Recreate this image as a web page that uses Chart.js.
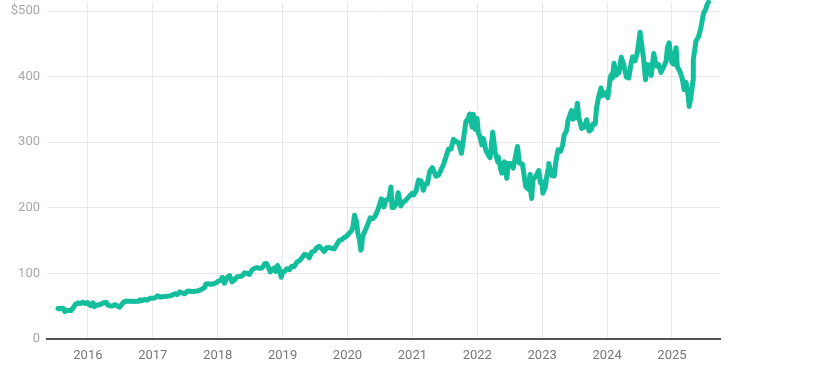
<!DOCTYPE html>
<html>
<head>
<meta charset="utf-8">
<script src="https://cdn.jsdelivr.net/npm/chart.js@4/dist/chart.umd.min.js"></script>
<style>
html,body{margin:0;padding:0;background:#fff;}
#wrap{width:825px;height:381px;position:relative;}
</style>
</head>
<body>
<div id="wrap"><canvas id="c"></canvas></div>
<script>
const dates = [
"2015-07-17","2015-07-24","2015-07-31","2015-08-14","2015-08-24","2015-08-28","2015-09-11","2015-09-28","2015-10-09","2015-10-23","2015-11-06","2015-11-20","2015-12-04","2015-12-18","2015-12-31",
"2016-01-08","2016-01-20","2016-01-29","2016-02-08","2016-02-19","2016-03-04","2016-03-18","2016-04-01","2016-04-15","2016-04-22","2016-05-06","2016-05-20","2016-06-03","2016-06-17","2016-06-27","2016-07-08","2016-07-22","2016-08-05","2016-08-19","2016-09-02","2016-09-16","2016-09-30","2016-10-14","2016-10-21","2016-11-04","2016-11-18","2016-12-02","2016-12-16","2016-12-30",
"2017-01-13","2017-01-27","2017-02-10","2017-02-24","2017-03-10","2017-03-24","2017-04-07","2017-04-21","2017-05-05","2017-05-19","2017-06-02","2017-06-16","2017-06-30","2017-07-14","2017-07-28","2017-08-11","2017-08-25","2017-09-08","2017-09-22","2017-10-06","2017-10-20","2017-10-27","2017-11-10","2017-11-24","2017-12-08","2017-12-22",
"2018-01-05","2018-01-19","2018-01-26","2018-02-08","2018-02-23","2018-03-09","2018-03-23","2018-04-06","2018-04-20","2018-05-04","2018-05-18","2018-06-01","2018-06-15","2018-06-29","2018-07-13","2018-07-27","2018-08-10","2018-08-24","2018-09-07","2018-09-21","2018-10-03","2018-10-12","2018-10-24","2018-11-02","2018-11-16","2018-11-23","2018-12-03","2018-12-14","2018-12-24","2018-12-31",
"2019-01-11","2019-01-25","2019-02-08","2019-02-22","2019-03-08","2019-03-22","2019-04-05","2019-04-19","2019-05-03","2019-05-17","2019-05-31","2019-06-14","2019-06-28","2019-07-12","2019-07-26","2019-08-09","2019-08-23","2019-09-06","2019-09-20","2019-10-04","2019-10-18","2019-11-01","2019-11-15","2019-11-29","2019-12-13","2019-12-31",
"2020-01-10","2020-01-24","2020-01-31","2020-02-10","2020-02-21","2020-02-28","2020-03-09","2020-03-16","2020-03-20","2020-03-26","2020-04-09","2020-04-24","2020-05-08","2020-05-22","2020-06-05","2020-06-19","2020-07-02","2020-07-10","2020-07-24","2020-08-07","2020-08-21","2020-09-02","2020-09-08","2020-09-18","2020-10-02","2020-10-13","2020-10-28","2020-11-09","2020-11-20","2020-12-04","2020-12-18","2020-12-31",
"2021-01-08","2021-01-22","2021-01-27","2021-02-05","2021-02-19","2021-03-04","2021-03-12","2021-03-26","2021-04-09","2021-04-23","2021-05-07","2021-05-14","2021-05-28","2021-06-11","2021-06-25","2021-07-09","2021-07-23","2021-08-06","2021-08-20","2021-09-03","2021-09-17","2021-10-04","2021-10-15","2021-10-29","2021-11-12","2021-11-19","2021-12-03","2021-12-10","2021-12-20","2021-12-31",
"2022-01-07","2022-01-14","2022-01-27","2022-02-04","2022-02-18","2022-03-07","2022-03-14","2022-03-29","2022-04-11","2022-04-26","2022-04-29","2022-05-11","2022-05-19","2022-06-03","2022-06-16","2022-06-24","2022-07-08","2022-07-22","2022-08-15","2022-08-26","2022-09-12","2022-09-30","2022-10-14","2022-10-25","2022-10-26","2022-11-03","2022-11-10","2022-11-25","2022-12-13","2022-12-22","2022-12-30",
"2023-01-05","2023-01-19","2023-01-27","2023-02-03","2023-02-07","2023-02-24","2023-03-10","2023-03-20","2023-03-31","2023-04-14","2023-04-26","2023-05-05","2023-05-19","2023-05-26","2023-06-15","2023-06-23","2023-06-30","2023-07-07","2023-07-18","2023-07-26","2023-08-11","2023-08-25","2023-09-08","2023-09-22","2023-10-05","2023-10-13","2023-10-26","2023-11-03","2023-11-15","2023-11-28","2023-12-07","2023-12-22","2023-12-29",
"2024-01-05","2024-01-19","2024-01-24","2024-01-31","2024-02-09","2024-02-21","2024-03-08","2024-03-21","2024-04-04","2024-04-19","2024-04-26","2024-05-02","2024-05-16","2024-05-24","2024-06-07","2024-06-20","2024-07-05","2024-07-24","2024-08-05","2024-08-16","2024-08-30","2024-09-06","2024-09-20","2024-10-04","2024-10-18","2024-10-31","2024-11-15","2024-11-29","2024-12-06","2024-12-16","2024-12-31",
"2025-01-10","2025-01-24","2025-01-31","2025-02-14","2025-02-28","2025-03-10","2025-03-21","2025-03-31","2025-04-08","2025-04-17","2025-04-30","2025-05-01","2025-05-16","2025-05-30","2025-06-13","2025-06-27","2025-07-10","2025-07-18","2025-07-25"
];
const prices = [
46.6,45.9,46.7,47.0,41.7,43.9,43.5,43.3,47.1,52.9,54.9,54.2,56.0,54.1,55.5,
52.3,50.8,55.1,49.4,51.8,52.0,53.5,55.6,55.6,51.8,50.4,50.6,52.4,50.1,48.4,52.3,56.6,57.9,57.6,57.7,57.3,57.6,57.4,59.7,58.7,60.4,59.3,62.3,62.1,
62.7,65.8,64.0,64.5,64.9,65.0,65.7,67.0,69.0,67.7,71.8,70.0,68.9,72.8,73.0,72.5,72.8,73.0,74.4,76.3,78.8,84.0,84.2,83.3,84.2,85.5,
88.2,90.0,94.1,85.0,94.1,96.5,87.2,90.2,95.0,95.2,96.4,100.8,100.1,98.6,105.4,107.7,109.0,107.7,108.2,114.3,115.2,109.6,102.3,106.5,108.3,103.1,112.1,106.0,94.1,101.6,
102.8,107.2,105.7,110.9,110.5,117.1,119.4,123.4,128.9,128.1,123.7,132.5,134.0,138.9,141.3,137.7,133.4,139.1,139.4,138.4,137.4,143.7,150.0,151.4,154.5,157.7,
161.3,165.0,170.2,188.7,178.6,162.0,150.6,135.4,137.4,156.1,165.1,174.6,184.7,183.5,187.2,196.0,206.3,213.7,201.3,212.5,213.0,231.7,200.4,200.4,206.2,222.9,202.7,208.1,210.4,214.4,218.6,222.4,
219.6,226.0,232.9,242.2,241.0,226.7,235.8,236.5,255.9,261.2,252.5,248.2,249.7,257.9,266.0,277.9,289.7,289.5,304.4,301.1,299.9,283.1,304.2,331.6,336.7,343.1,323.0,342.5,319.9,336.3,
314.0,310.2,296.0,305.9,287.9,278.9,276.4,315.4,285.3,270.2,277.5,260.6,253.1,270.0,245.0,267.7,267.7,260.4,293.5,268.1,266.7,232.9,228.6,250.7,231.3,214.3,243.0,247.5,256.9,238.2,239.8,
222.3,231.8,248.2,258.4,267.6,249.2,248.6,272.2,288.3,286.1,295.4,310.7,318.3,332.9,348.1,335.0,340.5,337.2,359.5,337.8,321.0,323.0,334.3,317.0,319.4,327.7,327.9,352.8,369.7,382.7,371.0,374.6,376.0,
367.8,398.7,402.6,397.6,420.5,402.2,406.2,429.4,417.9,399.1,406.3,397.8,421.0,430.2,423.9,437.2,467.6,428.9,395.2,418.5,417.1,401.7,435.3,416.1,418.2,406.4,415.0,423.5,443.6,451.6,421.5,
419.0,444.1,415.1,408.4,397.0,380.2,391.3,375.4,354.6,367.8,395.3,425.4,454.3,460.4,475.0,495.9,503.0,510.1,513.7
];
const yearTicks = [2016,2017,2018,2019,2020,2021,2022,2023,2024,2025];
const priceTicks = [0,100,200,300,400,500];

function toYear(s){
  const d = new Date(s + "T00:00:00Z");
  const y = d.getUTCFullYear();
  const start = Date.UTC(y,0,1), end = Date.UTC(y+1,0,1);
  return y + (d.getTime() - start) / (end - start);
}
const points = dates.map((d,i)=>({x: toYear(d), y: prices[i]}));

new Chart(document.getElementById('c'), {
  type: 'line',
  data: { datasets: [{
    data: points,
    borderColor: 'rgb(18,190,156)',
    borderWidth: 5,
    pointRadius: 0,
    tension: 0,
    fill: false,
    clip: false,
    borderJoinStyle: 'round',
    borderCapStyle: 'round'
  }]},
  options: {
    responsive: true,
    maintainAspectRatio: false,
    animation: false,
    layout: { padding: { top: 2.5, right: 105, bottom: 0, left: 0 } },
    plugins: { legend: { display: false }, tooltip: { enabled: false } },
    scales: {
      x: {
        type: 'linear',
        min: 2015.37,
        max: 2025.74,
        afterBuildTicks: (s) => { s.ticks = yearTicks.map(v => ({value: v})); },
        afterFit: (s) => { s.height = 42; s.paddingLeft = 0; s.paddingRight = 0; },
        grid: { color: '#e8e8e8', lineWidth: 1, drawTicks: false },
        border: { display: true, color: '#555', width: 2 },
        ticks: {
          color: '#777',
          font: { family: 'Roboto', size: 13 },
          padding: 9,
          maxRotation: 0,
          callback: (v) => String(v)
        }
      },
      y: {
        min: 0,
        max: 513,
        afterBuildTicks: (s) => { s.ticks = priceTicks.map(v => ({value: v})); },
        afterFit: (s) => { s.width = 47; s.paddingTop = 0; s.paddingBottom = 0; },
        grid: { color: '#e8e8e8', lineWidth: 1, drawTicks: false },
        border: { display: false },
        ticks: {
          color: '#a8a8a8',
          font: { family: 'Roboto', size: 13 },
          padding: 7,
          callback: (v) => v === 500 ? '$500' : String(v)
        }
      }
    }
  }
});
</script>
</body>
</html>
